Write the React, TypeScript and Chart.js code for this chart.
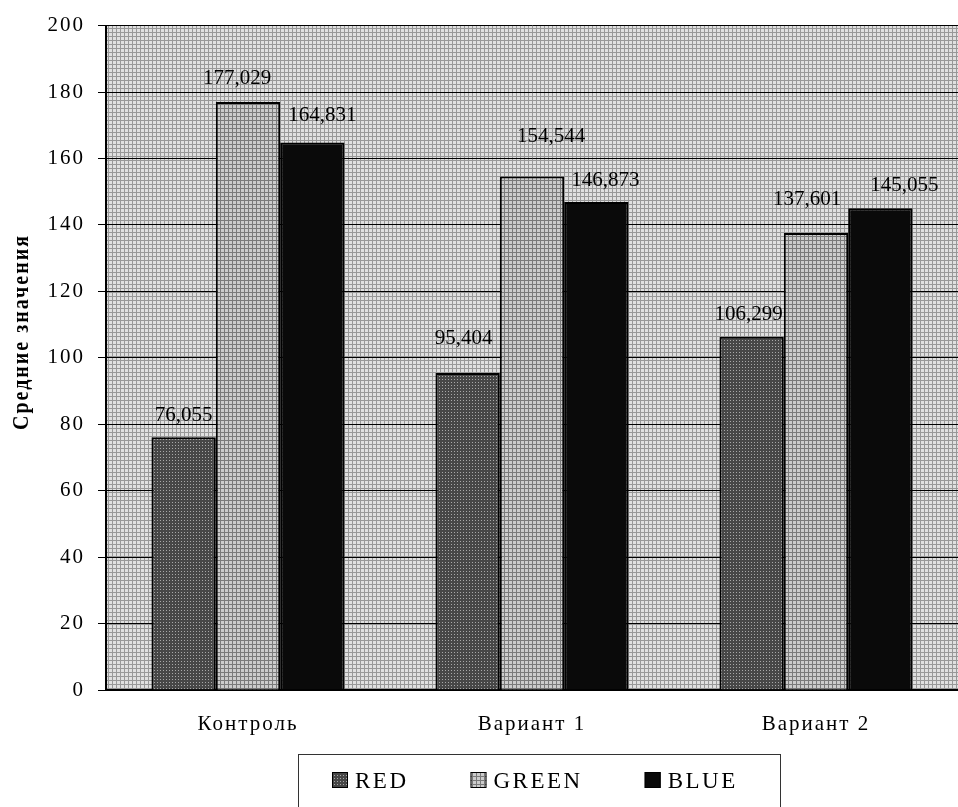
import React, { useEffect, useRef } from "react";
import { Chart, registerables } from "chart.js";

Chart.register(...registerables);

// ---------- data ----------
const categories = ["Контроль", "Вариант 1", "Вариант 2"];
const seriesNames = ["RED", "GREEN", "BLUE"];
const redValues = [76.055, 95.404, 106.299];
const greenValues = [177.029, 154.544, 137.601];
const blueValues = [164.831, 146.873, 145.055];
const yMin = 0;
const yMax = 200;
const yStep = 20;
const yAxisTitle = "Средние значения";

// ---------- label nudges (styling, px) ----------
const labelDx = [
  [0, -4, -3],
  [-11, 19, -9],
  [10, 9, 24],
];
const labelGap = [
  [16, 29, 17],
  [18, 35, 28],
  [21, 16, 17],
];

const SERIF = "'Liberation Serif', 'Times New Roman', serif";

function tile(size: number, draw: (c: CanvasRenderingContext2D) => void) {
  const cv = document.createElement("canvas");
  cv.width = size;
  cv.height = size;
  const c = cv.getContext("2d")!;
  draw(c);
  return cv;
}

function fmt(v: number) {
  return v.toFixed(3).replace(".", ",");
}

export default function App() {
  const ref = useRef<HTMLCanvasElement>(null);

  useEffect(() => {
    const canvas = ref.current!;
    const ctx = canvas.getContext("2d")!;

    const bgTile = tile(4, (c) => {
      c.fillStyle = "#e0e0e0";
      c.fillRect(0, 0, 4, 4);
      c.fillStyle = "#989898";
      c.fillRect(0, 0, 4, 1);
      c.fillRect(0, 0, 1, 4);
    });
    const redTile = tile(3, (c) => {
      c.fillStyle = "#474747";
      c.fillRect(0, 0, 3, 3);
      c.fillStyle = "#a8a8a8";
      c.fillRect(1, 1, 1, 1);
    });
    const greenTile = tile(4, (c) => {
      c.fillStyle = "#cccccc";
      c.fillRect(0, 0, 4, 4);
      c.fillStyle = "#7a7a7a";
      c.fillRect(0, 0, 4, 1);
      c.fillRect(0, 0, 1, 4);
    });
    const bgPattern = ctx.createPattern(bgTile, "repeat")!;
    const redPattern = ctx.createPattern(redTile, "repeat")!;
    const greenPattern = ctx.createPattern(greenTile, "repeat")!;
    const fills: (string | CanvasPattern)[] = [redPattern, greenPattern, "#0a0a0a"];
    const seriesValues = [redValues, greenValues, blueValues];

    const decor = {
      id: "decor",
      beforeDraw(chart: any) {
        const { ctx: c, chartArea: a } = chart;
        c.save();
        c.fillStyle = "#ffffff";
        c.fillRect(0, 0, chart.width, chart.height);
        c.fillStyle = bgPattern;
        c.fillRect(a.left, a.top, a.right - a.left, a.bottom - a.top);
        c.restore();
        (c as any).letterSpacing = "2px";
      },
      afterDraw(chart: any) {
        const c: CanvasRenderingContext2D = chart.ctx;
        // data labels
        c.save();
        (c as any).letterSpacing = "0px";
        c.fillStyle = "#000";
        c.font = `21px ${SERIF}`;
        c.textAlign = "center";
        c.textBaseline = "alphabetic";
        seriesValues.forEach((vals, di) => {
          const meta = chart.getDatasetMeta(di);
          meta.data.forEach((bar: any, i: number) => {
            c.fillText(fmt(vals[i]), bar.x + labelDx[di][i], bar.y - labelGap[di][i]);
          });
        });
        c.restore();

        // y axis title
        c.save();
        (c as any).letterSpacing = "2px";
        c.fillStyle = "#000";
        c.font = `bold 20px ${SERIF}`;
        c.translate(22, 332);
        c.scale(1.2, 1);
        c.rotate(-Math.PI / 2);
        c.textAlign = "center";
        c.textBaseline = "middle";
        c.fillText(yAxisTitle, 0, 0);
        c.restore();

        // legend
        c.save();
        c.strokeStyle = "#333";
        c.lineWidth = 1;
        c.strokeRect(298.5, 754.5, 482, 80);
        (c as any).letterSpacing = "2.5px";
        c.font = `23px ${SERIF}`;
        c.textAlign = "left";
        c.textBaseline = "alphabetic";
        let x = 332;
        seriesNames.forEach((name, i) => {
          c.fillStyle = fills[i];
          c.fillRect(x, 772, 16, 16);
          c.strokeStyle = "#000";
          c.lineWidth = 1;
          c.strokeRect(x + 0.5, 772.5, 15, 15);
          c.fillStyle = "#000";
          c.fillText(name, x + 23, 788);
          x = x + 23 + c.measureText(name).width + 62;
        });
        c.restore();
      },
    };

    const chart = new Chart(canvas, {
      type: "bar",
      data: {
        labels: categories,
        datasets: seriesNames.map((name, i) => ({
          label: name,
          data: seriesValues[i],
          backgroundColor: fills[i] as any,
          borderColor: "#000",
          borderWidth: 2,
          barPercentage: 1,
          categoryPercentage: 0.68,
        })),
      },
      options: {
        responsive: false,
        animation: false,
        layout: { padding: { top: 21, left: 0, right: 0, bottom: 0 } },
        plugins: {
          legend: { display: false },
          tooltip: { enabled: false },
        },
        scales: {
          x: {
            grid: { display: false, drawTicks: false },
            border: { display: true, color: "#000", width: 2 },
            ticks: {
              color: "#000",
              font: { family: SERIF, size: 21 },
              padding: 22,
              maxRotation: 0,
              autoSkip: false,
            },
            afterFit: (s: any) => {
              s.height = 117;
            },
          },
          y: {
            min: yMin,
            max: yMax,
            ticks: {
              stepSize: yStep,
              color: "#000",
              font: { family: SERIF, size: 21 },
              padding: 13,
            },
            grid: { color: "#000", lineWidth: 1, tickLength: 8, drawTicks: true },
            border: { display: true, color: "#000", width: 2 },
            afterFit: (s: any) => {
              s.width = 106;
            },
          },
        },
      },
      plugins: [decor],
    });
    return () => chart.destroy();
  }, []);

  return (
    <div style={{ position: "absolute", left: 0, top: 0, width: 958, height: 807, background: "#fff" }}>
      <canvas ref={ref} width={958} height={807} style={{ display: "block" }} />
    </div>
  );
}
